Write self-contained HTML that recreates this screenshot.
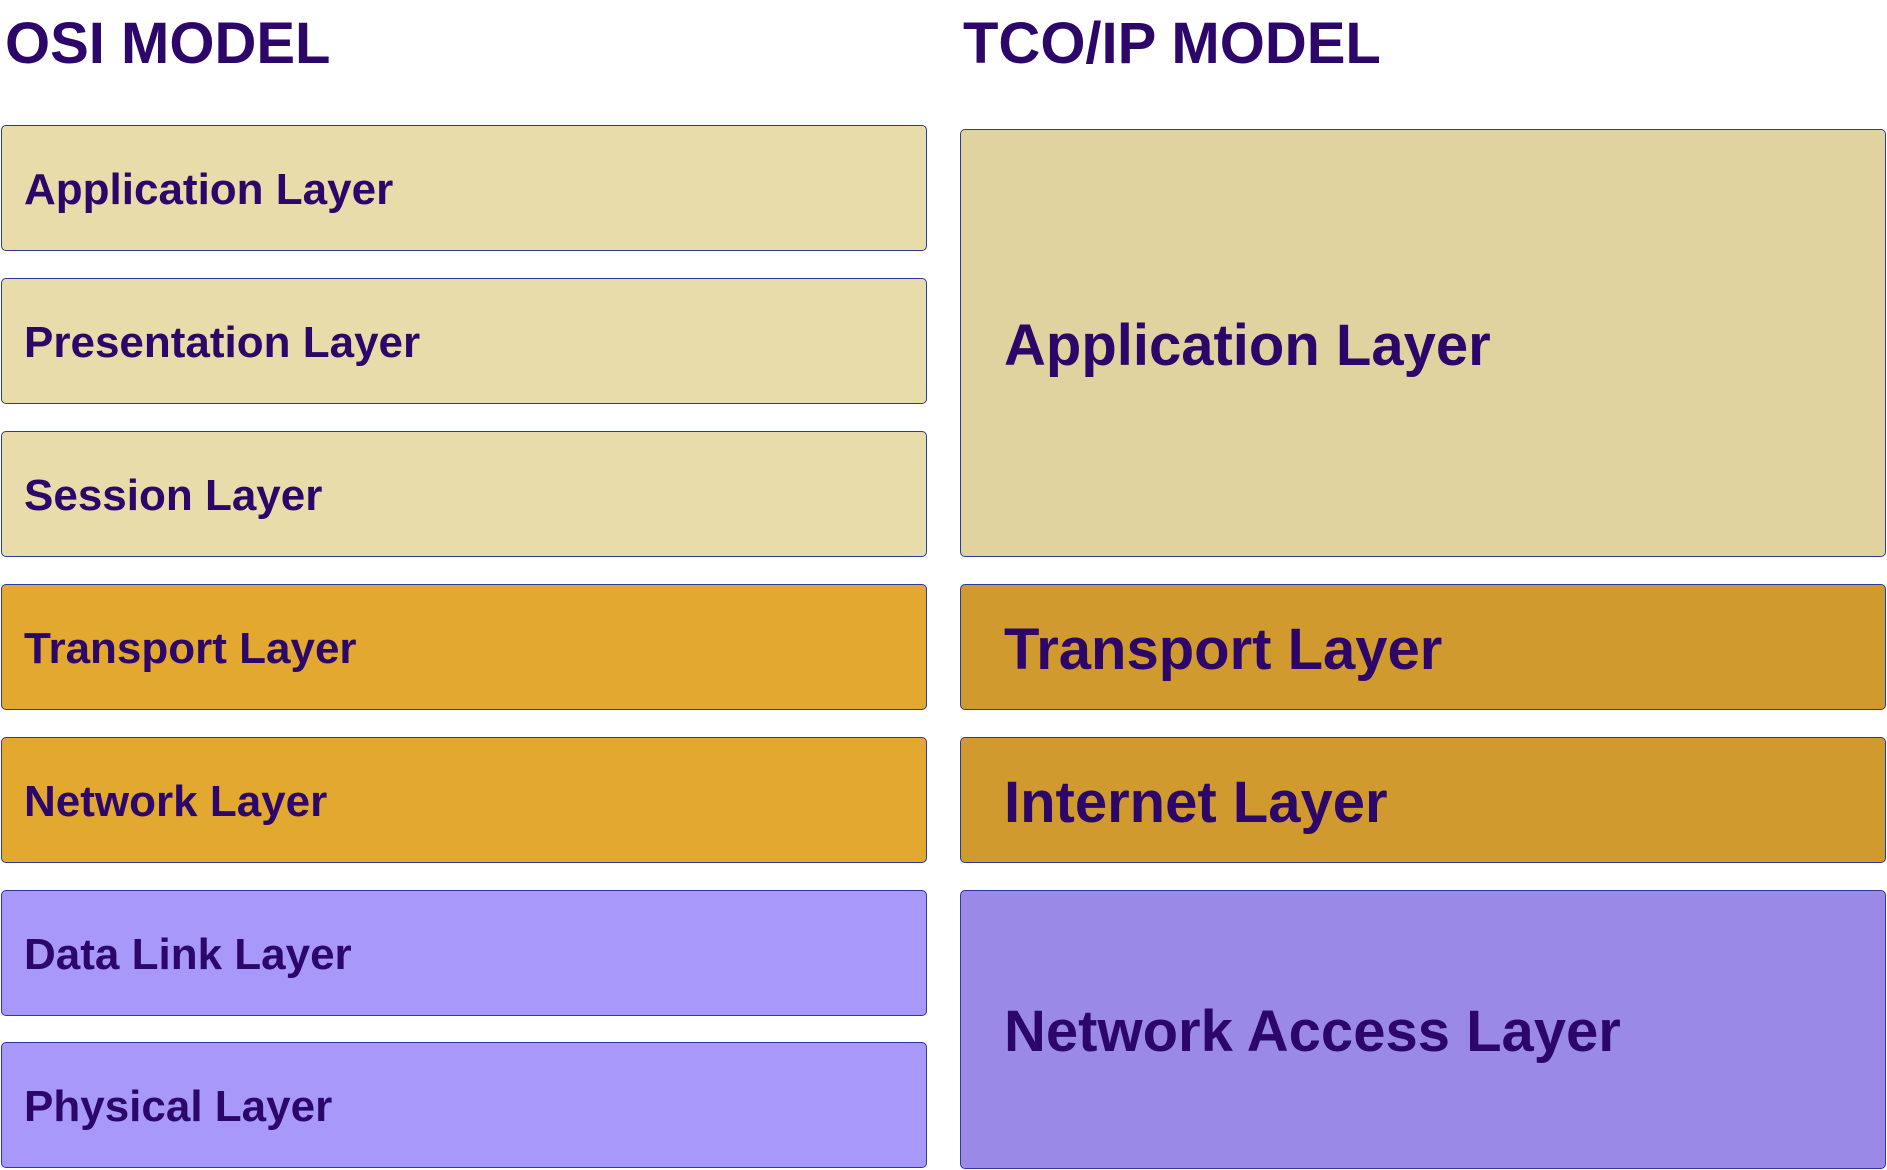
<!DOCTYPE html>
<html><head><meta charset="utf-8"><style>
body{margin:0;width:1887px;height:1170px;background:#fff;position:relative;overflow:hidden;font-family:"Liberation Sans",sans-serif;font-weight:bold;color:#2d0669}
.t{position:absolute;font-size:58px;top:10px;letter-spacing:0px}
.b{position:absolute;box-sizing:border-box;border:1.5px solid #2a3a9a;border-radius:5px;display:flex;align-items:center;padding-top:4px}
.l{left:1px;width:926px;height:126px;font-size:44px;padding-left:22px}
.r{left:960px;width:926px;padding-left:43px;font-size:58px}
.c1{background:#e8dcaa}.c2{background:#e2a830}.c3{background:#a898fa}
.d1{background:#e0d3a0}.d2{background:#d09a2e}.d3{background:#9b89e8}
</style></head><body>
<div class="t" style="left:5px">OSI MODEL</div>
<div class="t" style="left:963px">TCO/IP MODEL</div>
<div class="b l c1" style="top:125px">Application Layer</div>
<div class="b l c1" style="top:278px">Presentation Layer</div>
<div class="b l c1" style="top:431px">Session Layer</div>
<div class="b l c2" style="top:584px">Transport Layer</div>
<div class="b l c2" style="top:737px">Network Layer</div>
<div class="b l c3" style="top:890px">Data Link Layer</div>
<div class="b l c3" style="top:1042px">Physical Layer</div>
<div class="b r d1" style="top:129px;height:428px">Application Layer</div>
<div class="b r d2" style="top:584px;height:126px">Transport Layer</div>
<div class="b r d2" style="top:737px;height:126px">Internet Layer</div>
<div class="b r d3" style="top:890px;height:279px">Network Access Layer</div>
</body></html>
